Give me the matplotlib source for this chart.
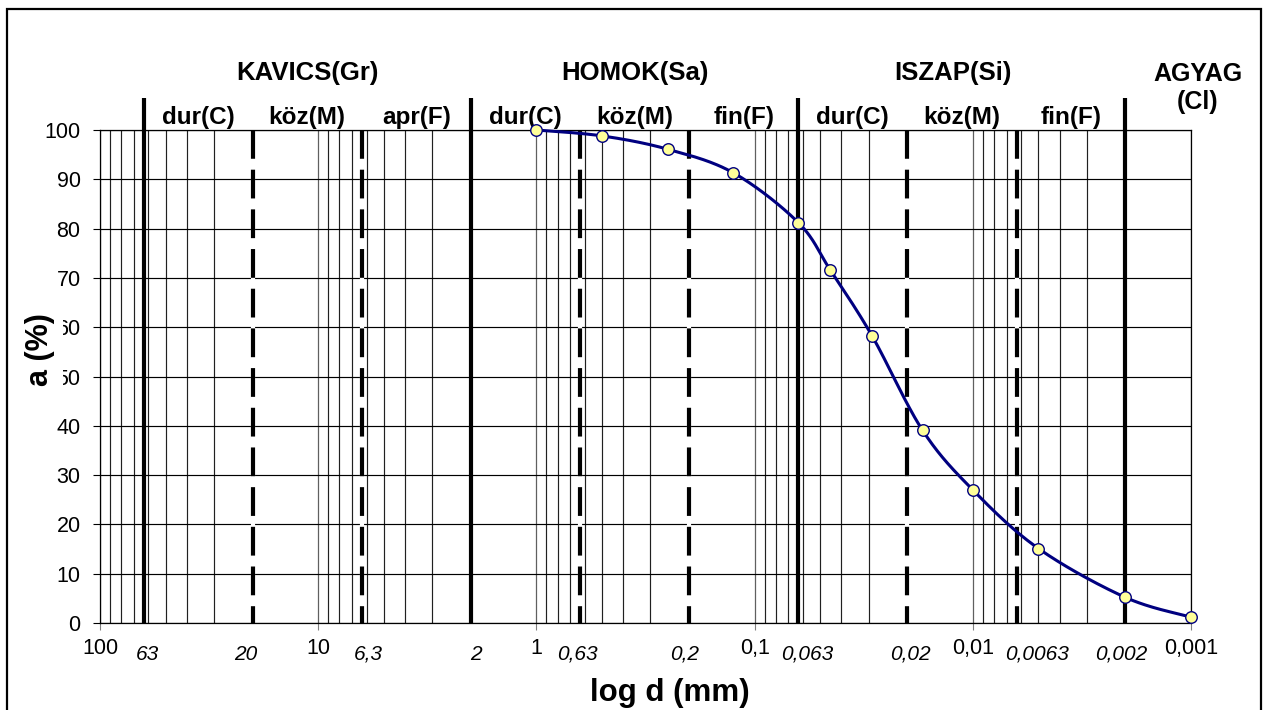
import numpy as np
import matplotlib
matplotlib.use("Agg")
import matplotlib.pyplot as plt
from matplotlib.ticker import LogLocator, FixedLocator, FixedFormatter, NullFormatter
from matplotlib.patches import Rectangle

plt.rcParams['font.family'] = ['Liberation Sans', 'DejaVu Sans']

# ---------------- data ----------------
d_mm = [1, 0.5, 0.25, 0.125, 0.063, 0.045, 0.029, 0.017, 0.01, 0.005, 0.002, 0.001]
a_pct = [100, 98.8, 96.1, 91.3, 81.2, 71.6, 58.3, 39.1, 27.0, 15.1, 5.2, 1.2]

major_ticks = [100, 10, 1, 0.1, 0.01, 0.001]
major_labels = ["100", "10", "1", "0,1", "0,01", "0,001"]

solid_bounds = [63, 2, 0.063, 0.002]
dashed_bounds = [20, 6.3, 0.63, 0.2, 0.02, 0.0063]

bound_values = [63, 20, 6.3, 2, 0.63, 0.2, 0.063, 0.02, 0.0063, 0.002]
bound_labels = ["63", "20", "6,3", "2", "0,63", "0,2", "0,063", "0,02", "0,0063", "0,002"]
bound_label_dx = [4, -7, 6, 5, -3, -4, 9, 3, 20, -4]   # pixel nudges of the text boxes

main_groups = ["KAVICS(Gr)", "HOMOK(Sa)", "ISZAP(Si)"]
main_ranges = [(63, 2), (2, 0.063), (0.063, 0.002)]
main_dx = [0, 0, -9]
sub_groups = ["dur(C)", "köz(M)", "apr(F)", "dur(C)", "köz(M)", "fin(F)",
              "dur(C)", "köz(M)", "fin(F)"]
sub_ranges = [(63, 20), (20, 6.3), (6.3, 2), (2, 0.63), (0.63, 0.2), (0.2, 0.063),
              (0.063, 0.02), (0.02, 0.0063), (0.0063, 0.002)]
clay_label = "AGYAG\n(Cl)"

# ---------------- figure ----------------
W, H = 1266, 710
fig = plt.figure(figsize=(W / 100, H / 100), dpi=100)
fig.patch.set_facecolor('white')

# outer border
fig.add_artist(Rectangle((7 / W, -0.05), (1261 - 7) / W, 1.05 - 9 / H,
                         transform=fig.transFigure, fill=False,
                         edgecolor='black', linewidth=1.6))

ax = fig.add_axes([100 / W, 1 - 623 / H, 1091 / W, 493 / H])
ax.set_xscale('log')
ax.set_xlim(100, 0.001)
ax.set_ylim(0, 100)

# grid
ax.xaxis.set_major_locator(FixedLocator(major_ticks))
ax.xaxis.set_major_formatter(FixedFormatter(major_labels))
ax.xaxis.set_minor_locator(LogLocator(base=10, subs=np.arange(2, 10)))
ax.xaxis.set_minor_formatter(NullFormatter())
ax.set_yticks(np.arange(0, 101, 10))
ax.grid(which='major', axis='x', color='#606060', linewidth=0.9)
ax.grid(which='minor', axis='x', color='#202020', linewidth=0.85)
ax.grid(which='major', axis='y', color='black', linewidth=0.85)
ax.set_axisbelow(True)

for s in ax.spines.values():
    s.set_color('black')
    s.set_linewidth(0.9)

ax.tick_params(axis='x', which='major', direction='out', length=5, width=0.8,
               color='#808080', pad=5.5, labelsize=15.5)
ax.tick_params(axis='x', which='minor', length=0)
ax.tick_params(axis='y', which='major', direction='out', length=5, width=0.8,
               color='black', pad=9.0, labelsize=15.5)

# boundaries
for b in solid_bounds:
    ax.plot([b, b], [0, 106.5], color='black', linewidth=3.0, clip_on=False,
            solid_capstyle='butt', zorder=3)
for b in dashed_bounds:
    ax.plot([b, b], [100, 0], color='white', linewidth=3.0, zorder=2.5,
            solid_capstyle='butt')
    ax.plot([b, b], [100, 0], color='black', linewidth=3.0, zorder=3,
            dashes=(29 / 4.2, 11 / 4.2), dash_capstyle='butt')

# smoothed curve (Bezier / Catmull-Rom as in spreadsheet smoothing)
def smooth(u, v, n=40):
    P = np.column_stack([u, v])
    P = np.vstack([P[0], P, P[-1]])
    out = []
    t = np.linspace(0, 1, n)[:, None]
    for i in range(1, len(P) - 2):
        p0, p1, p2, p3 = P[i - 1], P[i], P[i + 1], P[i + 2]
        c1 = p1 + (p2 - p0) / 6
        c2 = p2 - (p3 - p1) / 6
        b = (1 - t) ** 3 * p1 + 3 * (1 - t) ** 2 * t * c1 + 3 * (1 - t) * t ** 2 * c2 + t ** 3 * p2
        out.append(b)
    return np.vstack(out)

curve = smooth(np.log10(d_mm), np.array(a_pct, dtype=float))
ax.plot(10 ** curve[:, 0], curve[:, 1], color='#000080', linewidth=2.2, zorder=4,
        clip_on=False)
ax.plot(d_mm, a_pct, linestyle='none', marker='o', markersize=8.3,
        markerfacecolor='#FFFF99', markeredgecolor='#000080', markeredgewidth=1.0,
        zorder=5, clip_on=False)

# italic boundary labels
for b, lab, dx in zip(bound_values, bound_labels, bound_label_dx):
    ax.annotate(lab, xy=(b, 0), xycoords=('data', 'axes fraction'),
                xytext=(dx, -31), textcoords='offset pixels',
                ha='center', va='center', fontsize=15, style='italic')

# group titles
for lab, (b1, b2), dx in zip(main_groups, main_ranges, main_dx):
    ax.annotate(lab, xy=(np.sqrt(b1 * b2), 111.6), xycoords='data',
                xytext=(dx, 0), textcoords='offset pixels',
                ha='center', va='center', fontsize=18.5, fontweight='bold',
                annotation_clip=False)
for lab, (b1, b2) in zip(sub_groups, sub_ranges):
    ax.text(np.sqrt(b1 * b2), 102.6, lab, ha='center', va='center',
            fontsize=17.5, fontweight='bold', clip_on=False)
ax.annotate(clay_label, xy=(0.001, 108.5), xycoords='data',
            xytext=(7, 0), textcoords='offset pixels',
            ha='center', va='center', fontsize=18, fontweight='bold',
            linespacing=1.25, annotation_clip=False)

# axis titles
fig.text(40 / W, 1 - 350 / H, "a (%)", rotation=90, ha='center', va='center',
         fontsize=22, fontweight='bold', zorder=10,
         bbox=dict(facecolor='white', edgecolor='none', boxstyle='square,pad=0.25'))
fig.text(670 / W, 1 - 693 / H, "log d (mm)", ha='center', va='center',
         fontsize=22.5, fontweight='bold')

fig.savefig('out.png', dpi=100)
